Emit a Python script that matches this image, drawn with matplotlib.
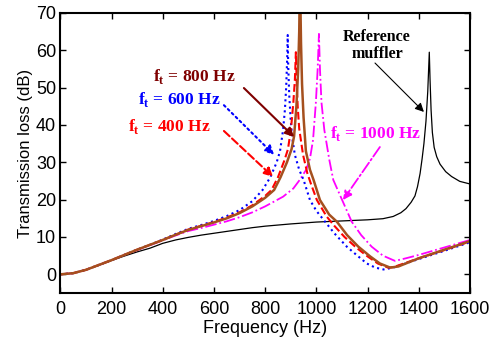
import matplotlib
matplotlib.use('Agg')
import matplotlib.pyplot as plt

# reference muffler
f_ref = [0, 50, 100, 150, 200, 250, 300, 350, 400, 450, 500, 550, 600, 650, 700, 750, 800, 900,
         1000, 1100, 1200, 1260, 1300, 1330, 1350, 1370, 1385, 1395, 1405, 1413, 1420, 1428, 1435,
         1441, 1444, 1448, 1453, 1460, 1470, 1483, 1505, 1528, 1560, 1600]
tl_ref = [0, 0.3, 1.2, 2.4, 3.7, 4.9, 6.0, 7.0, 8.3, 9.2, 9.9, 10.5, 11.0, 11.5, 12.0, 12.5, 12.9, 13.5,
          14.0, 14.3, 14.6, 14.9, 15.5, 16.5, 17.6, 19.3, 21.0, 23.5, 27.0, 31.0, 35.0, 41.0, 49.0,
          59.5, 52.0, 44.0, 38.0, 34.0, 31.5, 29.5, 27.5, 26.2, 24.9, 24.2]

# ft = 600 Hz
f_600 = [0, 50, 100, 150, 200, 250, 300, 350, 400, 450, 500, 550, 600, 650, 700, 750, 790, 820,
         845, 858, 870, 877, 882, 886, 888, 890, 894, 900, 907, 916, 933, 950, 975, 1000, 1034, 1070,
         1119, 1160, 1197, 1230, 1262, 1300, 1400, 1500, 1600]
tl_600 = [0, 0.3, 1.2, 2.5, 3.8, 5.2, 6.6, 7.9, 9.3, 10.8, 12.2, 13.2, 14.3, 15.6, 17.2, 19.6, 22.6, 26.0,
          30.0, 33.0, 38.7, 44.0, 50.0, 58.0, 64.1, 56.0, 48.0, 41.0, 36.0, 32.0, 28.0, 25.3, 19.9, 17.0, 14.1, 11.0,
          7.4, 5.0, 2.9, 1.8, 1.3, 1.8, 4.1, 6.3, 8.6]

# ft = 400 Hz
f_400 = [0, 50, 100, 150, 200, 250, 300, 350, 400, 450, 500, 550, 600, 650, 700, 750, 800, 825,
         850, 875, 889, 901, 910, 916, 920, 923, 927, 933, 948, 965, 980, 1002, 1040, 1070, 1110, 1155,
         1200, 1240, 1280, 1300, 1400, 1500, 1600]
tl_400 = [0, 0.3, 1.2, 2.5, 3.8, 5.2, 6.6, 7.9, 9.2, 10.6, 12.0, 13.0, 14.0, 15.2, 16.6, 18.5, 21.0, 22.6,
          26.0, 30.5, 33.5, 39.0, 46.0, 52.0, 59.5, 52.0, 45.0, 39.0, 32.0, 27.0, 24.0, 19.9, 15.5, 13.0, 10.0, 7.2,
          4.8, 2.9, 1.8, 1.9, 4.3, 6.5, 8.8]

# ft = 800 Hz
f_800 = [0, 50, 100, 150, 200, 250, 300, 350, 400, 450, 500, 550, 600, 650, 700, 750, 800, 835,
         860, 885, 903, 913, 922, 929, 933, 936, 940, 944, 950, 959, 975, 989, 1014, 1050, 1080, 1120,
         1164, 1210, 1248, 1288, 1320, 1400, 1500, 1600]
tl_800 = [0, 0.3, 1.2, 2.5, 3.8, 5.2, 6.6, 7.9, 9.2, 10.6, 11.9, 12.9, 13.9, 15.0, 16.4, 18.2, 20.5, 22.6,
          26.0, 30.0, 33.5, 37.0, 45.0, 55.0, 65.0, 80.0, 62.0, 51.0, 42.0, 33.0, 28.0, 25.3, 19.9, 16.0, 14.1, 10.5,
          7.4, 4.8, 2.9, 1.8, 2.1, 4.3, 6.6, 8.9]

# ft = 1000 Hz
f_1000 = [0, 50, 100, 150, 200, 250, 300, 350, 400, 450, 500, 550, 600, 650, 700, 750, 800, 870,
          910, 935, 960, 975, 987, 998, 1005, 1010, 1014, 1020, 1031, 1051, 1066, 1100, 1138, 1175,
          1216, 1260, 1307, 1350, 1400, 1500, 1600]
tl_1000 = [0, 0.3, 1.2, 2.5, 3.8, 5.2, 6.5, 7.8, 9.1, 10.4, 11.6, 12.4, 13.3, 14.2, 15.3, 16.6, 18.2, 20.8,
           23.0, 25.3, 28.0, 31.0, 36.0, 46.0, 55.0, 64.4, 55.0, 46.0, 38.7, 30.5, 25.3, 20.0, 14.1, 10.5,
           7.4, 5.0, 3.6, 4.3, 5.2, 7.2, 9.2]

plt.rcParams['font.family'] = ['Liberation Sans', 'DejaVu Sans']
plt.rcParams['mathtext.fontset'] = 'custom'
plt.rcParams['mathtext.rm'] = 'Liberation Serif:bold'
plt.rcParams['mathtext.bf'] = 'Liberation Serif:bold'

fig = plt.figure(figsize=(4.92, 3.42), dpi=100)
ax = fig.add_axes([0.1226, 0.1433, 0.8327, 0.8187])

brown = '#A5501E'
ax.plot(f_ref, tl_ref, color='black', lw=0.9)
ax.plot(f_1000, tl_1000, color='#FF00FF', lw=1.3, ls='-.')
ax.plot(f_600, tl_600, color='#0000FF', lw=1.5, ls=':')
ax.plot(f_400, tl_400, color='#FF0000', lw=1.5, ls='--')
ax.plot(f_800, tl_800, color=brown, lw=1.8)

ax.set_xlim(0, 1600)
ax.set_ylim(-5, 70)
ax.set_xticks(range(0, 1601, 200))
ax.set_yticks(range(0, 71, 10))
ax.tick_params(direction='in', top=True, right=True, length=4, width=1, labelsize=13)
ax.tick_params(axis='y', pad=3)
ax.tick_params(axis='x', pad=6)
for s in ax.spines.values():
    s.set_linewidth(1.5)
ax.set_xlabel('Frequency (Hz)', fontsize=13, labelpad=1)
ax.set_ylabel('Transmission loss (dB)', fontsize=12, labelpad=2)

tfont = dict(family='Liberation Serif', weight='bold', fontsize=12.5, ha='center', va='center')
ax.text(522, 53.1, r'f$_\mathbf{t}$ = 800 Hz', color='#7F0000', **tfont)
ax.text(464, 46.7, r'f$_\mathbf{t}$ = 600 Hz', color='#0000FF', **tfont)
ax.text(425, 39.5, r'f$_\mathbf{t}$ = 400 Hz', color='#FF0000', **tfont)
ax.text(1233, 37.8, r'f$_\mathbf{t}$ = 1000 Hz', color='#FF00FF', **tfont)
ax.text(1237, 61.4, 'Reference\nmuffler', color='black', linespacing=1.1,
        **dict(tfont, fontsize=11.5))

def arrow(start, end, color, ls, lw):
    ax.annotate('', xy=end, xytext=start,
                arrowprops=dict(arrowstyle='-|>', color=color, lw=lw, ls=ls,
                                mutation_scale=13, shrinkA=0, shrinkB=0))

arrow((717, 49.9), (913, 36.8), '#7F0000', '-', 1.5)
arrow((639, 45.3), (835, 32.0), '#0000FF', ':', 1.5)
arrow((639, 38.4), (831, 26.1), '#FF0000', '--', 1.5)
arrow((1248, 34.1), (1104, 19.9), '#FF00FF', '-.', 1.3)
arrow((1229, 56.6), (1420, 43.5), 'black', '-', 0.8)

fig.savefig('out.png', dpi=100)
